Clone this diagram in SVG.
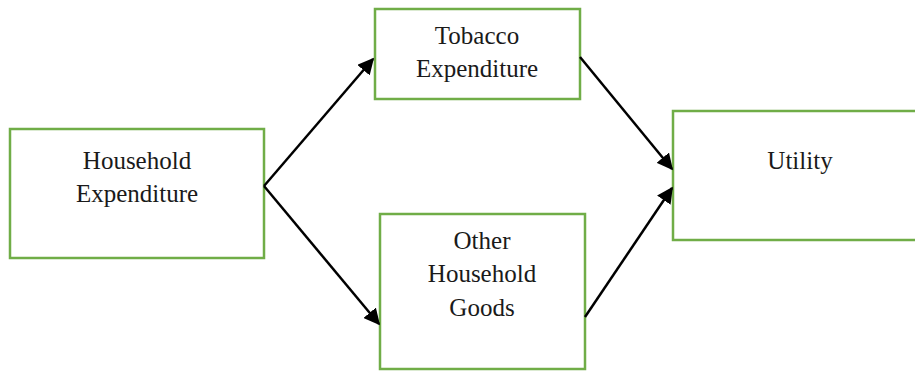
<svg xmlns="http://www.w3.org/2000/svg" width="915" height="371" viewBox="0 0 915 371">
<style>
.box{fill:#fff;stroke:#70AD47;stroke-width:2.5}
.t{font-family:'Liberation Serif','DejaVu Serif',serif;font-size:25px;fill:#1a1a1a;text-anchor:middle}
.c{stroke:#000;stroke-width:2.5;fill:none;marker-end:url(#ah)}
</style>
<defs>
<marker id="ah" viewBox="0 0 10 10" refX="9" refY="5" markerWidth="6.5" markerHeight="6.5" markerUnits="strokeWidth" orient="auto">
<path d="M0,0 L10,5 L0,10 z" fill="#000"/>
</marker>
</defs>
<rect width="915" height="371" fill="#fff"/>
<g id="household">
<rect class="box" x="10" y="129" width="254" height="129"/>
<text class="t" x="137" y="169">Household</text>
<text class="t" x="137" y="202">Expenditure</text>
</g>
<g id="tobacco">
<rect class="box" x="375" y="9" width="205" height="90"/>
<text class="t" x="477" y="44">Tobacco</text>
<text class="t" x="477" y="77">Expenditure</text>
</g>
<g id="other">
<rect class="box" x="380" y="214" width="205" height="155"/>
<text class="t" x="482" y="249">Other</text>
<text class="t" x="482" y="282">Household</text>
<text class="t" x="482" y="316">Goods</text>
</g>
<g id="utility">
<rect class="box" x="673" y="111" width="250" height="129"/>
<text class="t" x="800" y="169">Utility</text>
</g>
<g id="connectors">
<line class="c" x1="264" y1="186" x2="373" y2="59"/>
<line class="c" x1="264" y1="186" x2="379" y2="324"/>
<line class="c" x1="580" y1="57" x2="672" y2="169"/>
<line class="c" x1="585" y1="317" x2="672" y2="188"/>
</g>
</svg>
